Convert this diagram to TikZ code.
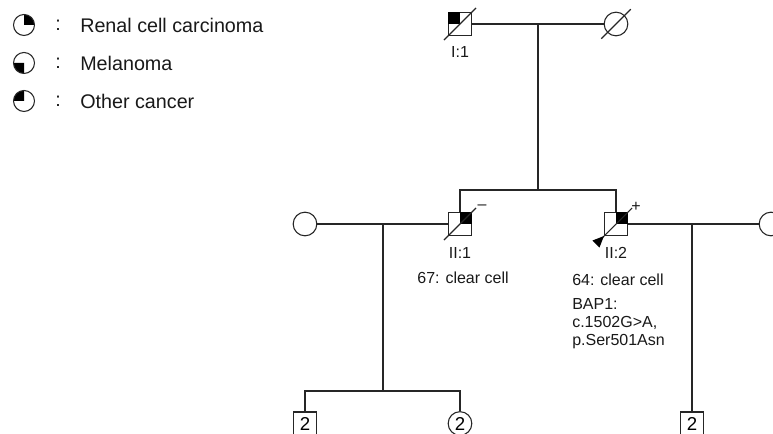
\documentclass[tikz,border=0pt]{standalone}
\usepackage{fontspec}
\setmainfont{Liberation Sans}
\usetikzlibrary{positioning}
\tikzstyle{male} = [rectangle, draw=black!85, minimum size=17.25pt, inner sep=0pt, line width=0.8pt, font=\fontsize{14}{16}\selectfont]
\tikzstyle{female} = [circle, draw=black!85, minimum size=17.75pt, inner sep=0pt, line width=0.8pt, font=\fontsize{14}{16}\selectfont]
\tikzstyle{line} = [draw=black!85, line width=0.8pt]
\tikzstyle{txt} = [inner sep=0pt, font=\fontsize{12}{13.5}\selectfont, text=black!90]
\tikzstyle{legend} = [inner sep=0pt, font=\fontsize{14.8}{16}\selectfont, text=black!90]

\begin{document}
\begin{tikzpicture}[x=0.75pt, y=0.75pt]
\useasboundingbox (0,0) rectangle (773,434);

% legend
\foreach \yy/\a/\lab [count=\i] in {409/0/Renal cell carcinoma, 371/180/Melanoma, 333/90/Other cancer} {
  \fill (24,\yy) -- ++(\a:10.5) arc[start angle=\a, delta angle=90, radius=10.5] -- cycle;
  \draw[line] (24,\yy) circle[radius=10.5];
  \node[legend] (colon\i) at (58,\yy) {:};
  \node[legend, anchor=west] (key\i) at (80,\yy) {\lab};
}

% generation I
\node[male] (I1) at (460,410) {};
\node[female] (I1w) at (616,410) {};
\fill (I1.center) rectangle (I1.north west);
\draw[line] ([shift={(-4,-4)}]I1.south west) -- ([shift={(4,4)}]I1.north east);
\draw[line] ([shift={(-6,-6)}]I1w.south west) -- ([shift={(6,6)}]I1w.north east);
\node[txt] (lI1) at (460,382) {I:1};
\draw[line] (I1.east) -- (I1w.west);
\coordinate (m1) at (538,410);
\coordinate (s1) at (538,244);
\draw[line] (m1) -- (s1);

% generation II
\node[male] (II1) at (460,210) {};
\node[male] (II2) at (616,210) {};
\node[female] (II1w) at (305,210) {};
\node[female] (II2w) at (771,210) {};
\draw[line] (II1.north) -- (II1.north |- s1) -- (II2.north |- s1) -- (II2.north);
\fill (II1.center) rectangle (II1.north east);
\fill (II2.center) rectangle (II2.north east);
\draw[line] ([shift={(-4,-4)}]II1.south west) -- ([shift={(4,4)}]II1.north east);
\draw[line] ([shift={(-7,-7)}]II2.south west) -- ([shift={(4,4)}]II2.north east);
\fill (II2.south west) -- ++(-4.5,-11.5) -- ++(-7,7) -- cycle;
\node[txt] (mII1) at (482,227) {--};
\node[txt] (mII2) at (636,227) {+};
\node[txt] (lII1) at (460,181) {II:1};
\node[txt] (lII2) at (616,181) {II:2};
\node[txt] (aII1) at (463,156) {67: clear cell};
\node[txt, anchor=west] (aII2) at (572,154) {64: clear cell};
\node[txt, anchor=north west, align=left] (gII2) at (572,136) {BAP1:\\c.1502G>A,\\p.Ser501Asn};
\draw[line] (II1w.east) -- (II1.west);
\draw[line] (II2.east) -- (II2w.west);

% generation III
\node[male] (c1) at (305,10.5) {2};
\node[female] (c2) at (460,10.5) {2};
\node[male] (c3) at (692,10.5) {2};
\coordinate (m2) at (383,210);
\coordinate (s2) at (383,43);
\draw[line] (m2) -- (s2);
\draw[line] (c1.north) -- (c1.north |- s2) -- (c2.north |- s2) -- (c2.north);
\coordinate (m3) at (692,210);
\draw[line] (m3) -- (c3.north);
\end{tikzpicture}
\end{document}
